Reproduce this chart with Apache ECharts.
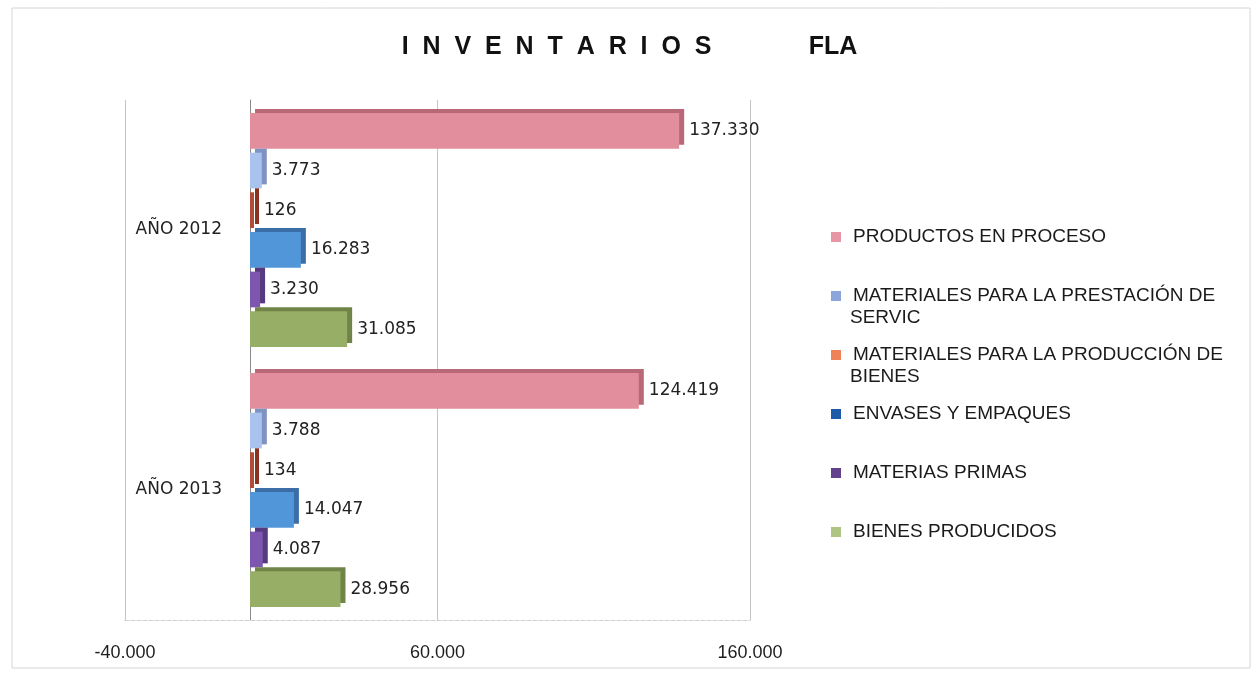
<!DOCTYPE html>
<html>
<head>
<meta charset="utf-8">
<script src="https://cdn.jsdelivr.net/npm/echarts@6/dist/echarts.min.js"></script>
<style>html,body{margin:0;padding:0;background:#fff}#c{width:1259px;height:679px}</style>
</head>
<body>
<div id="c"></div>
<script>
const categories = ['AÑO 2012', 'AÑO 2013'];
const seriesNames = [
  'PRODUCTOS EN PROCESO',
  'MATERIALES PARA LA PRESTACIÓN DE SERVIC',
  'MATERIALES PARA LA PRODUCCIÓN DE BIENES',
  'ENVASES Y EMPAQUES',
  'MATERIAS PRIMAS',
  'BIENES PRODUCIDOS'
];
const productosEnProceso = [137330, 124419];
const materialesPrestacion = [3773, 3788];
const materialesProduccion = [126, 134];
const envasesEmpaques = [16283, 14047];
const materiasPrimas = [3230, 4087];
const bienesProducidos = [31085, 28956];
const xMin = -40000, xMax = 160000, xStep = 100000;

const seriesData = [productosEnProceso, materialesPrestacion, materialesProduccion, envasesEmpaques, materiasPrimas, bienesProducidos];
const barColors = ['#E38E9D', '#AAC3EE', '#B44B37', '#5296DA', '#7D57AF', '#97AE66'];
const edgeColors = ['#B86877', '#7F93C2', '#8A3222', '#3B6EA6', '#553A80', '#6F8446'];
const legendColors = ['#E696A5', '#8CA5DC', '#F0825A', '#1E5AAA', '#64418C', '#AFC382'];
const legendLines = {
  'MATERIALES PARA LA PRESTACIÓN DE SERVIC': ['MATERIALES PARA LA PRESTACIÓN DE', 'SERVIC'],
  'MATERIALES PARA LA PRODUCCIÓN DE BIENES': ['MATERIALES PARA LA PRODUCCIÓN DE', 'BIENES']
};

function fmt(v) {
  const neg = v < 0;
  let s = String(Math.abs(Math.round(v)));
  s = s.replace(/\B(?=(\d{3})+(?!\d))/g, '.');
  return (neg ? '-' : '') + s;
}

const rich = {gap: {width: 12}, ind: {width: 19}};
legendColors.forEach((c, i) => { rich['sq' + i] = {backgroundColor: c, width: 10, height: 10}; });

const chart = echarts.init(document.getElementById('c'), null, {renderer: 'canvas'});
chart.setOption({
  backgroundColor: '#fff',
  animation: false,
  title: {
    text: 'I  N  V  E  N  T  A  R  I  O  S              FLA',
    left: 'center',
    top: 30,
    textStyle: {fontFamily: 'Liberation Sans', fontWeight: 'bold', fontSize: 25, color: '#111'}
  },
  graphic: [{
    type: 'rect', shape: {x: 12, y: 8, width: 1238, height: 660},
    style: {fill: 'none', stroke: '#d6d6d6', lineWidth: 1}, silent: true
  }],
  legend: {
    orient: 'vertical',
    left: 821,
    top: 221,
    itemWidth: 0,
    itemHeight: 9,
    itemGap: 15,
    icon: 'rect',
    data: seriesNames,
    formatter: n => {
      const i = seriesNames.indexOf(n);
      const lines = legendLines[n] || [n, ' '];
      return '{sq' + i + '|}{gap|}' + lines[0] + '\n{ind|}' + lines[1];
    },
    textStyle: {
      fontFamily: 'Liberation Sans', fontSize: 19, color: '#1a1a1a', lineHeight: 22,
      rich: rich
    }
  },
  grid: {left: 125, right: 509, top: 100, bottom: 59, containLabel: false},
  xAxis: {
    type: 'value',
    min: xMin, max: xMax, interval: xStep,
    axisLine: {show: true, onZero: false, lineStyle: {color: '#cfcfcf', type: 'dashed'}},
    axisTick: {show: false},
    splitLine: {show: true, lineStyle: {color: '#c4c4c4'}},
    axisLabel: {formatter: fmt, fontFamily: 'Liberation Sans', fontSize: 18, color: '#1e1e1e', margin: 24}
  },
  yAxis: {
    type: 'category',
    data: categories,
    inverse: true,
    axisLine: {show: true, onZero: true, lineStyle: {color: '#8a8a8a'}},
    axisTick: {show: false},
    axisLabel: {fontFamily: 'DejaVu Sans', fontSize: 17, color: '#222', margin: -97}
  },
  series: seriesNames.map((n, i) => ({
    name: n,
    type: 'bar',
    data: seriesData[i],
    barGap: '11%',
    barCategoryGap: '10%',
    barMinHeight: 4,
    itemStyle: {
      color: barColors[i],
      shadowColor: edgeColors[i], shadowBlur: 0, shadowOffsetX: 5, shadowOffsetY: -4
    },
    label: {
      show: true, position: 'right', distance: 10,
      formatter: p => fmt(p.value),
      fontFamily: 'DejaVu Sans', fontSize: 17, color: '#222'
    }
  }))
});
</script>
</body>
</html>
